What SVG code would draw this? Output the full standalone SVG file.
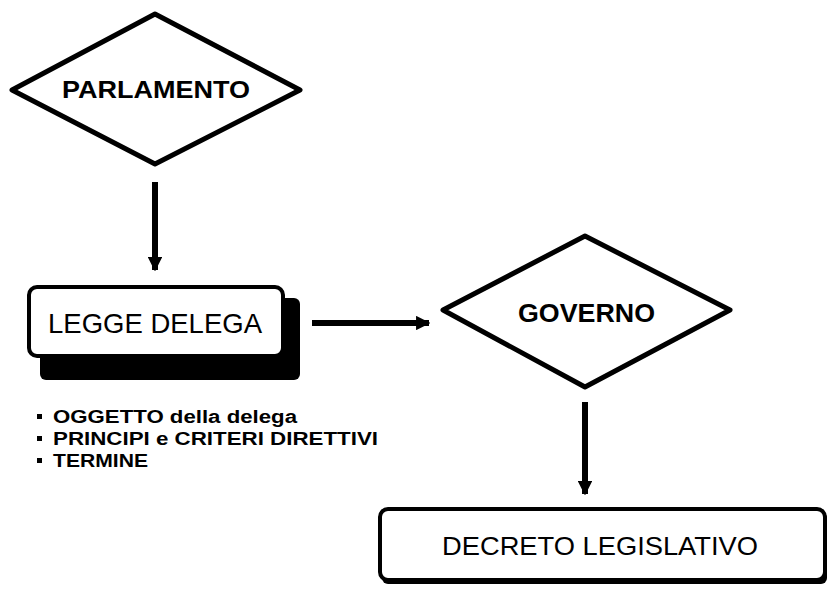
<svg xmlns="http://www.w3.org/2000/svg" width="828" height="589" viewBox="0 0 828 589">
<defs>
<style>
.dia{fill:#fff;stroke:#000;stroke-width:5;stroke-linejoin:round}
.box{fill:#fff;stroke:#000;stroke-width:4}
.shadow{fill:#000}
.bt{font-family:"Liberation Sans",Arial,sans-serif;font-weight:bold;fill:#000}
.rt{font-family:"Liberation Sans",Arial,sans-serif;fill:#000}
.conn{stroke:#000;stroke-width:6;fill:none}
</style>
<marker id="ah" viewBox="0 0 10 10" refX="9" refY="5" markerWidth="2.4" markerHeight="2.4" orient="auto" markerUnits="strokeWidth">
<path d="M0,0 L10,5 L0,10 Z" fill="#000"/>
</marker>
</defs>
<rect width="828" height="589" fill="#fff"/>
<g id="connectors">
<line class="conn" x1="155" y1="182" x2="155" y2="270" marker-end="url(#ah)"/>
<line class="conn" x1="312" y1="323" x2="429" y2="323" marker-end="url(#ah)"/>
<line class="conn" x1="585" y1="402" x2="585" y2="494" marker-end="url(#ah)"/>
</g>
<g id="parlamento">
<polygon class="dia" points="12,90 155,14 300,90 155,164"/>
<text class="bt" x="62" y="98" font-size="24" textLength="188" lengthAdjust="spacingAndGlyphs">PARLAMENTO</text>
</g>
<g id="legge-delega">
<rect class="shadow" x="40" y="298" width="260" height="82" rx="6"/>
<rect class="box" x="29" y="287" width="254" height="69" rx="8"/>
<text class="rt" x="48" y="333" font-size="28" textLength="214" lengthAdjust="spacingAndGlyphs">LEGGE DELEGA</text>
</g>
<g id="governo">
<polygon class="dia" points="443,310 585,236 730,310 585,387"/>
<text class="bt" x="518" y="322" font-size="25" textLength="137" lengthAdjust="spacingAndGlyphs">GOVERNO</text>
</g>
<g id="decreto">
<rect class="shadow" x="382" y="512" width="445" height="72" rx="6"/>
<rect class="box" x="380" y="509" width="445" height="71" rx="8"/>
<text class="rt" x="442" y="555" font-size="25" textLength="316" lengthAdjust="spacingAndGlyphs">DECRETO LEGISLATIVO</text>
</g>
<g id="note">
<rect x="37" y="414" width="5" height="5" fill="#000"/>
<rect x="37" y="436" width="5" height="5" fill="#000"/>
<rect x="37" y="458" width="5" height="5" fill="#000"/>
<text class="bt" x="53" y="423" font-size="18" textLength="244" lengthAdjust="spacingAndGlyphs">OGGETTO della delega</text>
<text class="bt" x="53" y="445" font-size="18" textLength="325" lengthAdjust="spacingAndGlyphs">PRINCIPI e CRITERI DIRETTIVI</text>
<text class="bt" x="53" y="467" font-size="18" textLength="95" lengthAdjust="spacingAndGlyphs">TERMINE</text>
</g>
</svg>
